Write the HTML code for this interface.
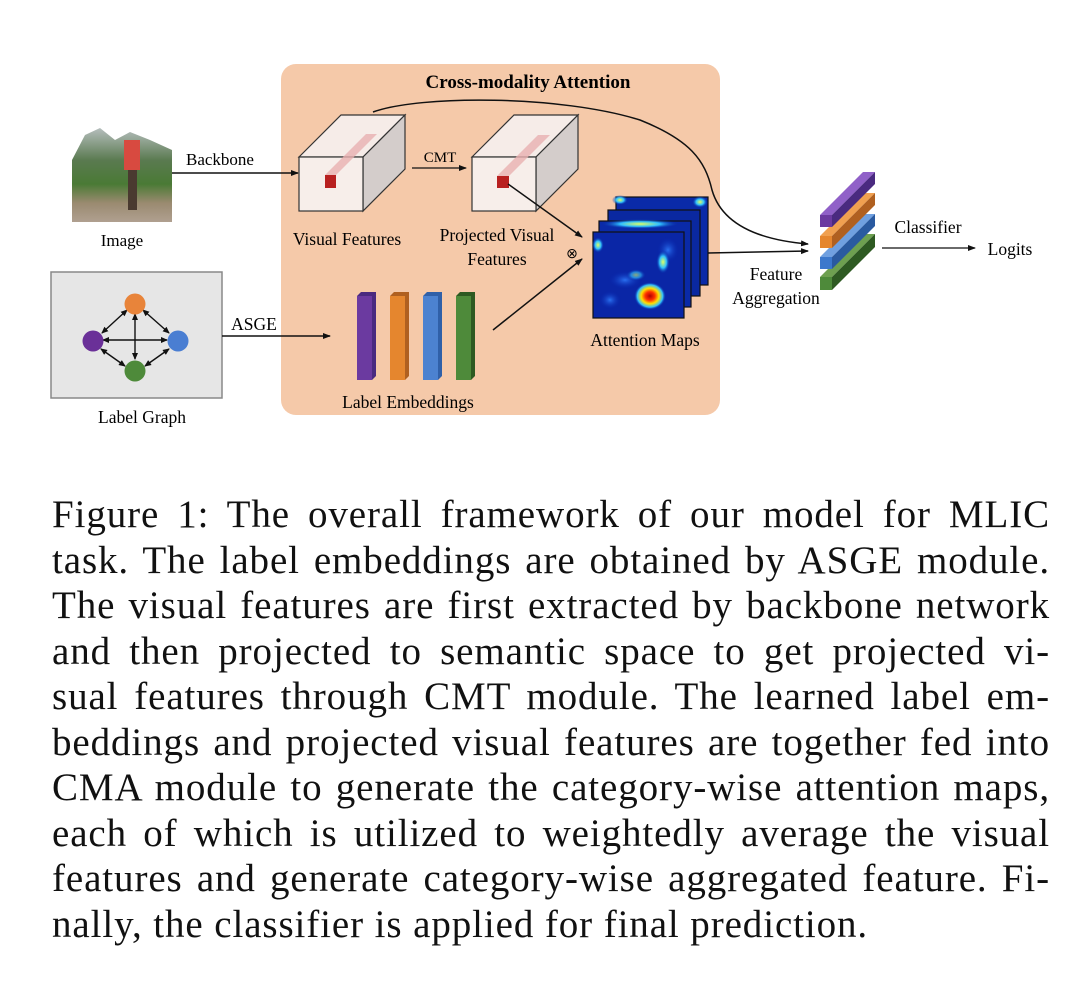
<!DOCTYPE html>
<html><head><meta charset="utf-8"><style>
body{margin:0;width:1080px;height:996px;background:#fff;overflow:hidden;position:relative}
svg{position:absolute;left:0;top:0}
.cap{position:absolute;left:52px;width:998px;top:492px;font-family:"Liberation Serif",serif;font-size:39px;letter-spacing:0.9px;line-height:45.5px;color:#111}
.cap div{text-align:justify;text-align-last:justify;white-space:nowrap;height:45.5px}
.cap div.l{text-align-last:left}
</style></head><body>
<svg width="1080" height="490" viewBox="0 0 1080 490" font-family="Liberation Serif, serif">
<defs>
<marker id="a" markerWidth="8" markerHeight="8" refX="7" refY="4" orient="auto" markerUnits="userSpaceOnUse"><path d="M0,1 L8,4 L0,7z" fill="#111"/></marker>
<marker id="b" markerWidth="7" markerHeight="7" refX="6" refY="3.5" orient="auto-start-reverse" markerUnits="userSpaceOnUse"><path d="M0,0.5 L7,3.5 L0,6.5z" fill="#111"/></marker>
<radialGradient id="hot"><stop offset="0" stop-color="#b00000"/><stop offset=".3" stop-color="#ff3000"/><stop offset=".55" stop-color="#ffe000"/><stop offset=".8" stop-color="#30c0ff"/><stop offset="1" stop-color="#0018a0" stop-opacity="0"/></radialGradient>
<radialGradient id="cy"><stop offset="0" stop-color="#e0ff60"/><stop offset=".5" stop-color="#30c0ff"/><stop offset="1" stop-color="#0018a0" stop-opacity="0"/></radialGradient>
<radialGradient id="bl"><stop offset="0" stop-color="#2a70f0"/><stop offset="1" stop-color="#0018a0" stop-opacity="0"/></radialGradient>
<linearGradient id="img" x1="0" y1="0" x2="0" y2="1"><stop offset="0" stop-color="#b8c0c0"/><stop offset=".35" stop-color="#5a7a50"/><stop offset=".6" stop-color="#4a7a35"/><stop offset=".8" stop-color="#9a8a70"/><stop offset="1" stop-color="#b0a090"/></linearGradient>
</defs>
<rect x="281" y="64" width="439" height="351" rx="15" fill="#f5c9a9"/>
<text x="528" y="88" font-size="19" font-weight="bold" text-anchor="middle">Cross-modality Attention</text>
<rect x="72" y="127" width="100" height="95" fill="url(#img)"/>
<path d="M72,160 L85,135 100,128 115,140 130,132 150,140 172,150 172,127 72,127z" fill="#fff"/>
<rect x="124" y="140" width="16" height="30" fill="#d84a40"/>
<rect x="128" y="170" width="9" height="40" fill="#4a3a30"/>
<text x="122" y="246" font-size="17" text-anchor="middle">Image</text>
<text x="220" y="165" font-size="17" text-anchor="middle">Backbone</text>
<line x1="172" y1="173" x2="298" y2="173" stroke="#111" stroke-width="1.5" marker-end="url(#a)"/>
<g stroke="#333" stroke-width="1.2">
<path d="M299,157 L341,115 L405,115 L363,157z" fill="#f6ece8"/>
<path d="M363,157 L405,115 L405,169 L363,211z" fill="#d4cdcb"/>
<rect x="299" y="157" width="64" height="54" fill="#f7eeea"/>
</g>
<path d="M325,175 L366,134 L377,134 L336,175 L336,188 L325,188z" fill="#e8b0b0" opacity=".8"/>
<rect x="325" y="175" width="11" height="13" fill="#b82020"/>
<g stroke="#333" stroke-width="1.2">
<path d="M472,157 L514,115 L578,115 L536,157z" fill="#f6ece8"/>
<path d="M536,157 L578,115 L578,169 L536,211z" fill="#d4cdcb"/>
<rect x="472" y="157" width="64" height="54" fill="#f7eeea"/>
</g>
<path d="M497,176 L538,135 L550,135 L509,176 L509,188 L497,188z" fill="#e8b0b0" opacity=".8"/>
<rect x="497" y="176" width="12" height="12" fill="#b82020"/>
<text x="440" y="162" font-size="15" text-anchor="middle">CMT</text>
<line x1="412" y1="168" x2="466" y2="168" stroke="#111" stroke-width="1.3" marker-end="url(#a)"/>
<text x="347" y="245" font-size="17.5" text-anchor="middle">Visual Features</text>
<text x="497" y="241" font-size="17.5" text-anchor="middle">Projected Visual</text>
<text x="497" y="265" font-size="17.5" text-anchor="middle">Features</text>
<text x="572" y="258" font-size="14" text-anchor="middle">⊗</text>
<line x1="508" y1="184" x2="582" y2="237" stroke="#111" stroke-width="1.5" marker-end="url(#a)"/>
<line x1="493" y1="330" x2="582" y2="259" stroke="#111" stroke-width="1.5" marker-end="url(#a)"/>
<path d="M373,112 C420,95 560,95 640,120 C690,140 705,160 712,190 C722,225 760,240 808,244" fill="none" stroke="#111" stroke-width="1.5" marker-end="url(#a)"/>
<line x1="708" y1="253" x2="808" y2="251" stroke="#111" stroke-width="1.5" marker-end="url(#a)"/>
<g stroke="#111" stroke-width="1.2">
<rect x="616" y="197" width="92" height="88" fill="#0a2aa8"/>
<rect x="608" y="210" width="92" height="86" fill="#0a28a0"/>
<rect x="599" y="221" width="92" height="86" fill="#0a2aa8"/>
<rect x="593" y="232" width="91" height="86" fill="#0a26a6"/>
</g>
<ellipse cx="620" cy="200" rx="8" ry="5" fill="url(#cy)"/>
<ellipse cx="700" cy="202" rx="8" ry="6" fill="url(#cy)"/>
<ellipse cx="640" cy="224" rx="40" ry="5" fill="url(#cy)"/>
<ellipse cx="625" cy="280" rx="18" ry="10" fill="url(#bl)"/>
<ellipse cx="668" cy="250" rx="12" ry="14" fill="url(#bl)"/>
<ellipse cx="610" cy="300" rx="12" ry="10" fill="url(#bl)"/>
<ellipse cx="663" cy="262" rx="7" ry="12" fill="url(#cy)"/>
<ellipse cx="636" cy="275" rx="10" ry="6" fill="url(#cy)" opacity=".6"/>
<ellipse cx="650" cy="296" rx="16" ry="14" fill="url(#hot)"/>
<ellipse cx="598" cy="245" rx="6" ry="8" fill="url(#cy)"/>
<text x="645" y="346" font-size="17.5" text-anchor="middle">Attention Maps</text>
<g>
<path d="M357,296 l4,-4 h15 v84 l-4,4z" fill="#4a2a80"/><rect x="357" y="296" width="15" height="84" fill="#6b3aa0"/>
<path d="M390,296 l4,-4 h15 v84 l-4,4z" fill="#b06020"/><rect x="390" y="296" width="15" height="84" fill="#e5862e"/>
<path d="M423,296 l4,-4 h15 v84 l-4,4z" fill="#3060a8"/><rect x="423" y="296" width="15" height="84" fill="#4c82d0"/>
<path d="M456,296 l4,-4 h15 v84 l-4,4z" fill="#2e5a22"/><rect x="456" y="296" width="15" height="84" fill="#4e8a3a"/>
</g>
<text x="408" y="408" font-size="17.5" text-anchor="middle">Label Embeddings</text>
<rect x="51" y="272" width="171" height="126" fill="#e6e6e6" stroke="#888" stroke-width="1.5"/>
<g stroke="#111" stroke-width="1.4" marker-end="url(#b)" marker-start="url(#b)">
<line x1="127" y1="310" x2="102" y2="333"/>
<line x1="143" y1="310" x2="169" y2="333"/>
<line x1="103" y1="340" x2="167" y2="340"/>
<line x1="135" y1="314" x2="135" y2="359"/>
<line x1="101" y1="349" x2="125" y2="366"/>
<line x1="169" y1="349" x2="145" y2="366"/>
</g>
<circle cx="135" cy="304" r="10.5" fill="#e8843a"/>
<circle cx="93" cy="341" r="10.5" fill="#6a3098"/>
<circle cx="178" cy="341" r="10.5" fill="#4a7ed2"/>
<circle cx="135" cy="371" r="10.5" fill="#4e8a3a"/>
<text x="142" y="423" font-size="17.5" text-anchor="middle">Label Graph</text>
<text x="254" y="330" font-size="17.5" text-anchor="middle">ASGE</text>
<line x1="222" y1="336" x2="330" y2="336" stroke="#111" stroke-width="1.5" marker-end="url(#a)"/>
<!-- feature stack: front rect 12x12, depth (43,-43) -->
<g>
<path d="M820,277 l43,-43 h12 l-43,43z" fill="#6ea050"/><path d="M832,277 l43,-43 v13 l-43,43z" fill="#2e5a22"/><rect x="820" y="277" width="12" height="13" fill="#4e8a3a"/>
<path d="M820,257 l43,-43 h12 l-43,43z" fill="#70a0e0"/><path d="M832,257 l43,-43 v12 l-43,43z" fill="#2a5aa0"/><rect x="820" y="257" width="12" height="12" fill="#3c78cc"/>
<path d="M820,236 l43,-43 h12 l-43,43z" fill="#f0a050"/><path d="M832,236 l43,-43 v12 l-43,43z" fill="#b06020"/><rect x="820" y="236" width="12" height="12" fill="#e5862e"/>
<path d="M820,215 l43,-43 h12 l-43,43z" fill="#9060c8"/><path d="M832,215 l43,-43 v12 l-43,43z" fill="#4a2a80"/><rect x="820" y="215" width="12" height="12" fill="#6b3aa0"/>
</g>
<text x="928" y="233" font-size="17.5" text-anchor="middle">Classifier</text>
<line x1="882" y1="248" x2="975" y2="248" stroke="#111" stroke-width="1.3" marker-end="url(#a)"/>
<text x="1010" y="255" font-size="17.5" text-anchor="middle">Logits</text>
<text x="776" y="280" font-size="17.5" text-anchor="middle">Feature</text>
<text x="776" y="304" font-size="17.5" text-anchor="middle">Aggregation</text>
</svg>
<div class="cap">
<div>Figure 1: The overall framework of our model for MLIC</div>
<div>task. The label embeddings are obtained by ASGE module.</div>
<div>The visual features are first extracted by backbone network</div>
<div>and then projected to semantic space to get projected vi-</div>
<div>sual features through CMT module. The learned label em-</div>
<div>beddings and projected visual features are together fed into</div>
<div>CMA module to generate the category-wise attention maps,</div>
<div>each of which is utilized to weightedly average the visual</div>
<div>features and generate category-wise aggregated feature. Fi-</div>
<div class="l">nally, the classifier is applied for final prediction.</div>
</div>
</body></html>
